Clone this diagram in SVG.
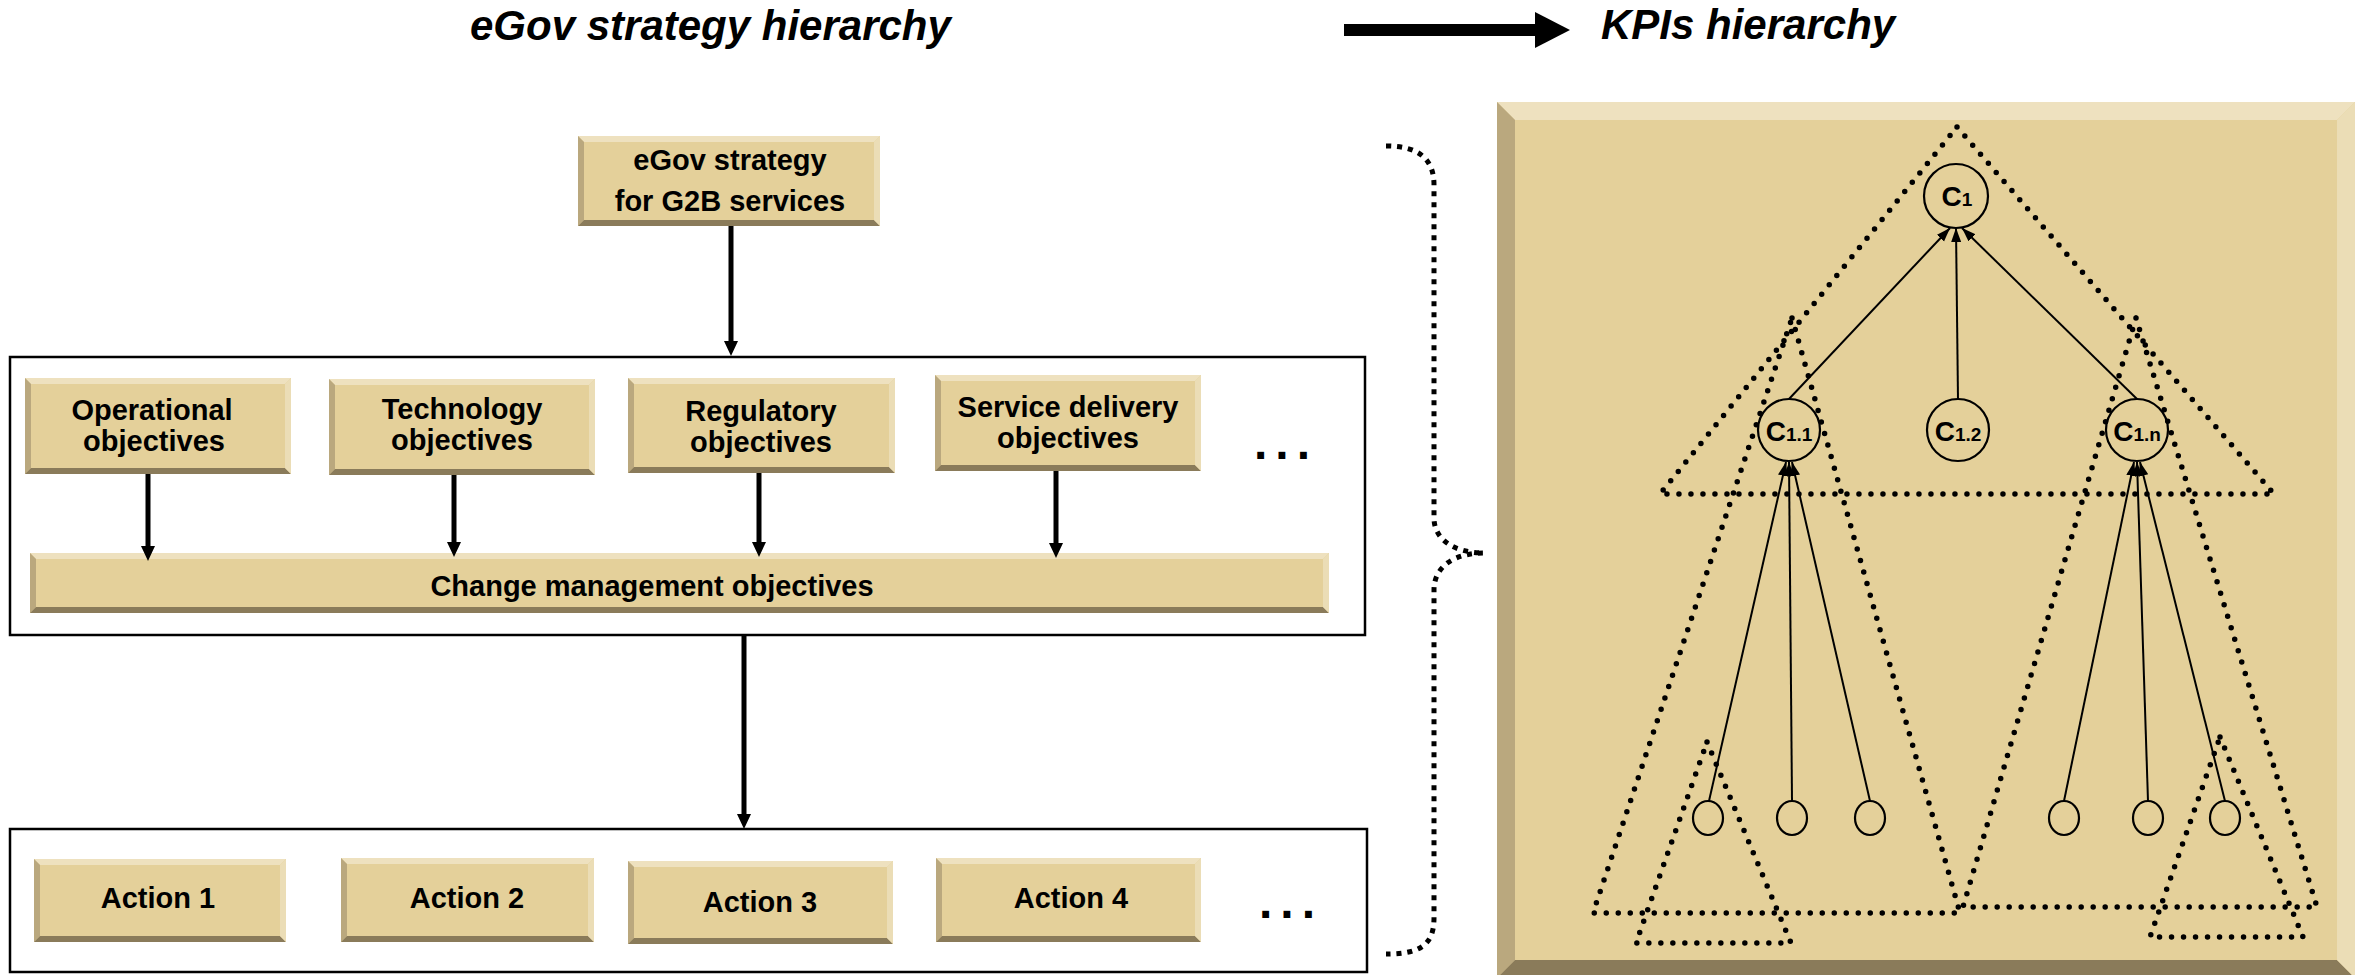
<svg xmlns="http://www.w3.org/2000/svg" width="2363" height="975" viewBox="0 0 2363 975">
<defs>
<style>
text{font-family:"Liberation Sans",Arial,sans-serif;font-weight:bold;fill:#000}
.title{font-size:42px;font-style:italic}
.lbl{font-size:29px;text-anchor:middle}
.face{fill:#E4D09A}
.bt{fill:#EEE1BF}
.bl{fill:#BAA87E}
.bb{fill:#8A7B5A}
.br{fill:#EBDDB6}
.frame{fill:none;stroke:#000;stroke-width:2.5}
.arr{stroke:#000;stroke-width:5;fill:none}
.thin{stroke:#000;stroke-width:2;fill:none}
.dots{fill:none;stroke:#000;stroke-width:5.5;stroke-dasharray:0 12;stroke-linecap:round;stroke-linejoin:round}
.brace{fill:none;stroke:#000;stroke-width:5;stroke-dasharray:5 6}
.node{fill:none;stroke:#000;stroke-width:2.2}
.ell{font-size:48px;letter-spacing:8px}
</style>
<marker id="ah" markerUnits="userSpaceOnUse" markerWidth="16" markerHeight="15" refX="5" refY="7" orient="auto">
<path d="M0,0 L15,7 L0,14 z" fill="#000"/>
</marker>
<marker id="ahs" markerUnits="userSpaceOnUse" markerWidth="15" markerHeight="11" refX="14" refY="5" orient="auto">
<path d="M0,0 L14,5 L0,10 z" fill="#000"/>
</marker>
</defs>
<rect width="2363" height="975" fill="#fff"/>

<g id="titles">
<text class="title" x="470" y="40">eGov strategy hierarchy</text>
<text class="title" x="1601" y="39">KPIs hierarchy</text>
<rect x="1344" y="24" width="192" height="12" fill="#000"/>
<polygon points="1535,12 1570,30 1535,48" fill="#000"/>
</g>

<g id="frames">
<rect class="frame" x="10" y="357" width="1355" height="278"/>
<rect class="frame" x="10" y="829" width="1357" height="143"/>
</g>

<g id="n-strategy">
<rect class="face" x="578" y="136" width="302" height="90"/>
<polygon class="bt" points="578,136 880,136 874,142 584,142"/>
<polygon class="bl" points="578,136 584,142 584,220 578,226"/>
<polygon class="bb" points="578,226 584,220 874,220 880,226"/>
<polygon class="br" points="880,136 880,226 874,220 874,142"/>
<text class="lbl" x="730" y="170">eGov strategy</text>
<text class="lbl" x="730" y="211">for G2B services</text>
</g>

<g id="n-operational">
<rect class="face" x="25" y="378" width="266" height="96"/>
<polygon class="bt" points="25,378 291,378 285,384 31,384"/>
<polygon class="bl" points="25,378 31,384 31,468 25,474"/>
<polygon class="bb" points="25,474 31,468 285,468 291,474"/>
<polygon class="br" points="291,378 291,474 285,468 285,384"/>
<text class="lbl" x="152" y="420">Operational</text>
<text class="lbl" x="154" y="451">objectives</text>
</g>

<g id="n-technology">
<rect class="face" x="329" y="379" width="266" height="96"/>
<polygon class="bt" points="329,379 595,379 589,385 335,385"/>
<polygon class="bl" points="329,379 335,385 335,469 329,475"/>
<polygon class="bb" points="329,475 335,469 589,469 595,475"/>
<polygon class="br" points="595,379 595,475 589,469 589,385"/>
<text class="lbl" x="462" y="419">Technology</text>
<text class="lbl" x="462" y="450">objectives</text>
</g>

<g id="n-regulatory">
<rect class="face" x="628" y="378" width="267" height="95"/>
<polygon class="bt" points="628,378 895,378 889,384 634,384"/>
<polygon class="bl" points="628,378 634,384 634,467 628,473"/>
<polygon class="bb" points="628,473 634,467 889,467 895,473"/>
<polygon class="br" points="895,378 895,473 889,467 889,384"/>
<text class="lbl" x="761" y="421">Regulatory</text>
<text class="lbl" x="761" y="452">objectives</text>
</g>

<g id="n-service">
<rect class="face" x="935" y="375" width="266" height="96"/>
<polygon class="bt" points="935,375 1201,375 1195,381 941,381"/>
<polygon class="bl" points="935,375 941,381 941,465 935,471"/>
<polygon class="bb" points="935,471 941,465 1195,465 1201,471"/>
<polygon class="br" points="1201,375 1201,471 1195,465 1195,381"/>
<text class="lbl" x="1068" y="417">Service delivery</text>
<text class="lbl" x="1068" y="448">objectives</text>
</g>

<g id="n-ellipsis-1">
<text class="ell" x="1254" y="459">...</text>
</g>

<g id="n-change">
<rect class="face" x="30" y="553" width="1299" height="60"/>
<polygon class="bt" points="30,553 1329,553 1323,559 36,559"/>
<polygon class="bl" points="30,553 36,559 36,607 30,613"/>
<polygon class="bb" points="30,613 36,607 1323,607 1329,613"/>
<polygon class="br" points="1329,553 1329,613 1323,607 1323,559"/>
<text class="lbl" x="652" y="596">Change management objectives</text>
</g>

<g id="n-action1">
<rect class="face" x="34" y="859" width="252" height="83"/>
<polygon class="bt" points="34,859 286,859 280,865 40,865"/>
<polygon class="bl" points="34,859 40,865 40,936 34,942"/>
<polygon class="bb" points="34,942 40,936 280,936 286,942"/>
<polygon class="br" points="286,859 286,942 280,936 280,865"/>
<text class="lbl" x="158" y="908">Action 1</text>
</g>

<g id="n-action2">
<rect class="face" x="341" y="858" width="253" height="84"/>
<polygon class="bt" points="341,858 594,858 588,864 347,864"/>
<polygon class="bl" points="341,858 347,864 347,936 341,942"/>
<polygon class="bb" points="341,942 347,936 588,936 594,942"/>
<polygon class="br" points="594,858 594,942 588,936 588,864"/>
<text class="lbl" x="467" y="908">Action 2</text>
</g>

<g id="n-action3">
<rect class="face" x="628" y="861" width="265" height="83"/>
<polygon class="bt" points="628,861 893,861 887,867 634,867"/>
<polygon class="bl" points="628,861 634,867 634,938 628,944"/>
<polygon class="bb" points="628,944 634,938 887,938 893,944"/>
<polygon class="br" points="893,861 893,944 887,938 887,867"/>
<text class="lbl" x="760" y="912">Action 3</text>
</g>

<g id="n-action4">
<rect class="face" x="936" y="858" width="265" height="84"/>
<polygon class="bt" points="936,858 1201,858 1195,864 942,864"/>
<polygon class="bl" points="936,858 942,864 942,936 936,942"/>
<polygon class="bb" points="936,942 942,936 1195,936 1201,942"/>
<polygon class="br" points="1201,858 1201,942 1195,936 1195,864"/>
<text class="lbl" x="1071" y="908">Action 4</text>
</g>

<g id="n-ellipsis-2">
<text class="ell" x="1259" y="918">...</text>
</g>

<g id="brace">
<path class="brace" d="M1386,146 C1420,146 1434,160 1434,185 L1434,518 C1434,540 1455,553 1484,553 C1455,553 1434,566 1434,590 L1434,918 C1434,945 1420,954 1386,954"/>
</g>

<g id="kpi-panel">
<rect class="face" x="1497" y="102" width="858" height="876"/>
<polygon class="bt" points="1497,102 2355,102 2337,120 1515,120"/>
<polygon class="bl" points="1497,102 1515,120 1515,960 1497,978"/>
<polygon class="bb" points="1497,978 1515,960 2337,960 2355,978"/>
<polygon class="br" points="2355,102 2355,978 2337,960 2337,120"/>
</g>

<g id="kpi-groups">
<polygon class="dots" points="1957,127 2274,494 1660,494"/>
<polygon class="dots" points="1792,318 1960,913 1593,913"/>
<polygon class="dots" points="2136,318 2317,907 1963,907"/>
<polygon class="dots" points="1707,742 1791,943 1636,943"/>
<polygon class="dots" points="2220,737 2303,937 2150,937"/>
</g>

<g id="n-c1">
<circle class="node" cx="1956" cy="196" r="32"/>
<text x="1957" y="206" text-anchor="middle"><tspan font-size="28">C</tspan><tspan font-size="19">1</tspan></text>
</g>
<g id="n-c11">
<circle class="node" cx="1789" cy="430" r="31"/>
<text x="1789" y="441" text-anchor="middle"><tspan font-size="28">C</tspan><tspan font-size="19">1.1</tspan></text>
</g>
<g id="n-c12">
<circle class="node" cx="1958" cy="430" r="31"/>
<text x="1958" y="441" text-anchor="middle"><tspan font-size="28">C</tspan><tspan font-size="19">1.2</tspan></text>
</g>
<g id="n-c1n">
<circle class="node" cx="2137" cy="430" r="31"/>
<text x="2137" y="441" text-anchor="middle"><tspan font-size="28">C</tspan><tspan font-size="19">1.n</tspan></text>
</g>
<g id="n-leaves">
<ellipse class="node" cx="1708" cy="818" rx="15" ry="17"/>
<ellipse class="node" cx="1792" cy="818" rx="15" ry="17"/>
<ellipse class="node" cx="1870" cy="818" rx="15" ry="17"/>
<ellipse class="node" cx="2064" cy="818" rx="15" ry="17"/>
<ellipse class="node" cx="2148" cy="818" rx="15" ry="17"/>
<ellipse class="node" cx="2225" cy="818" rx="15" ry="17" stroke-width="3.2"/>
</g>

<g id="connectors">
<line class="arr" x1="731" y1="226" x2="731" y2="346" marker-end="url(#ah)"/>
<line class="arr" x1="148" y1="474" x2="148" y2="551" marker-end="url(#ah)"/>
<line class="arr" x1="454" y1="475" x2="454" y2="547" marker-end="url(#ah)"/>
<line class="arr" x1="759" y1="473" x2="759" y2="547" marker-end="url(#ah)"/>
<line class="arr" x1="1056" y1="471" x2="1056" y2="548" marker-end="url(#ah)"/>
<line class="arr" x1="744" y1="636" x2="744" y2="819" marker-end="url(#ah)"/>
<line class="thin" x1="1789" y1="399" x2="1950" y2="228" marker-end="url(#ahs)"/>
<line class="thin" x1="1958" y1="399" x2="1956" y2="228" marker-end="url(#ahs)"/>
<line class="thin" x1="2137" y1="399" x2="1962" y2="228" marker-end="url(#ahs)"/>
<line class="thin" x1="1709" y1="801" x2="1786" y2="462" marker-end="url(#ahs)"/>
<line class="thin" x1="1792" y1="801" x2="1789" y2="462" marker-end="url(#ahs)"/>
<line class="thin" x1="1870" y1="801" x2="1792" y2="462" marker-end="url(#ahs)"/>
<line class="thin" x1="2064" y1="801" x2="2134" y2="462" marker-end="url(#ahs)"/>
<line class="thin" x1="2148" y1="801" x2="2137" y2="462" marker-end="url(#ahs)"/>
<line class="thin" x1="2225" y1="801" x2="2140" y2="462" marker-end="url(#ahs)"/>
</g>
</svg>
